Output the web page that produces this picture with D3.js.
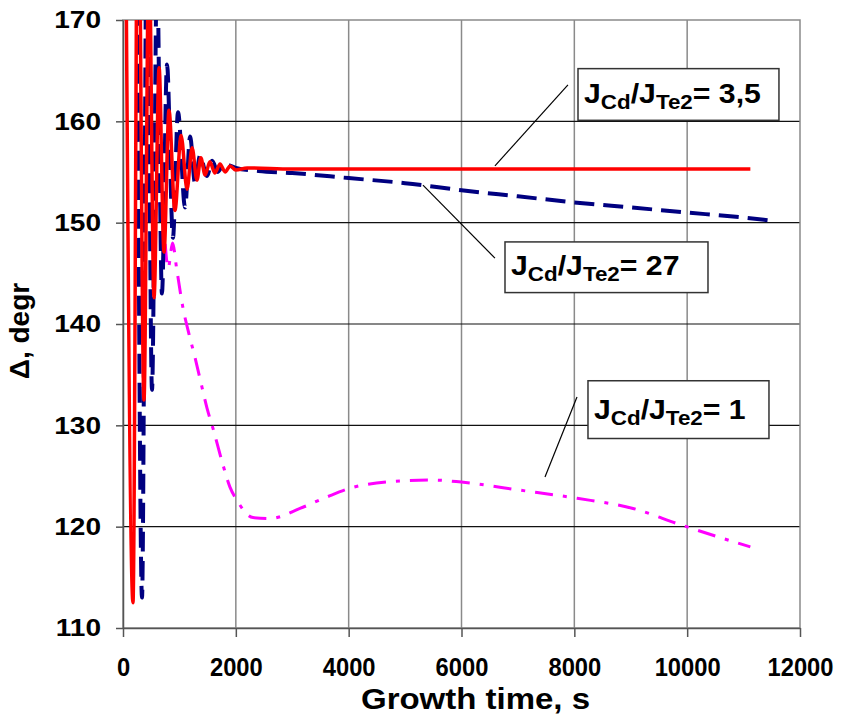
<!DOCTYPE html>
<html><head><meta charset="utf-8">
<script src="https://cdn.jsdelivr.net/npm/d3@7"></script>
<style>
html,body{margin:0;padding:0;background:#fff;}
text{font-family:"Liberation Sans",Arial,sans-serif;font-weight:bold;fill:#000;}
</style></head>
<body>
<svg id="chart" width="844" height="721"></svg>
<script>
// ---- data ----
const xTicks = [0, 2000, 4000, 6000, 8000, 10000, 12000];
const yTicks = [110, 120, 130, 140, 150, 160, 170];

// J_Cd/J_Te2 = 3,5 (red, solid)
const redTime  = [50, 177, 266, 372, 460, 550, 640, 727, 815, 920, 1030, 1135, 1225, 1310, 1380, 1455, 1540, 1630, 1720, 1810, 1900, 2000, 2200, 3000, 4000, 5000, 6000, 7000, 8000, 9000, 10000, 11120];
const redDelta = [178, 112.5, 190, 132.5, 178, 142.6, 165.3, 147.1, 161.1, 151.2, 158.6, 153.3, 157.4, 154.2, 156.4, 154.7, 156.0, 154.9, 155.8, 155.0, 155.6, 155.2, 155.4, 155.3, 155.3, 155.3, 155.3, 155.3, 155.3, 155.3, 155.3, 155.3];

// J_Cd/J_Te2 = 27 (navy, dashed)
const navyTime  = [250, 337, 425, 514, 603, 690, 780, 885, 975, 1100, 1190, 1275, 1365, 1490, 1580, 1680, 1790, 2000, 2400, 3000, 4000, 5000, 6000, 7000, 8000, 9000, 10000, 11000, 11500];
const navyDelta = [180, 113, 182, 133.5, 175, 143, 165.6, 148.5, 160.9, 151.5, 158.5, 153.9, 156.6, 154.6, 156.1, 155.0, 155.8, 155.4, 155.1, 154.9, 154.4, 153.9, 153.2, 152.6, 152.0, 151.5, 151.0, 150.5, 150.2];

// J_Cd/J_Te2 = 1 (magenta, dash-dot)
const magTime  = [650, 720, 800, 880, 950, 1063, 1170, 1276, 1390, 1489, 1595, 1772, 1896, 2020, 2304, 2605, 3137, 3600, 4025, 4900, 5500, 6000, 7040, 8050, 9040, 9875, 11120];
const magDelta = [152, 149.5, 145.5, 148.0, 145.5, 141.6, 139.0, 136.7, 134.0, 131.7, 129.7, 126.1, 123.9, 122.6, 120.9, 120.8, 121.8, 122.9, 123.8, 124.5, 124.6, 124.4, 123.6, 122.8, 121.8, 120.2, 118.0];

// annotation labels
const labelValues = ["3,5", "27", "1"];
// ---- end data ----

const svg = d3.select("#chart");
const L = 123, R = 800, T = 20, B = 628;
const SX = 1.17; // horizontal glyph stretch of original

const x = d3.scaleLinear().domain([0, 12000]).range([L, R]);
const y = d3.scaleLinear().domain([110, 170]).range([B, T]);

// grid
svg.append("g").selectAll("line").data(xTicks.slice(1, -1)).join("line")
  .attr("x1", d => x(d)).attr("x2", d => x(d)).attr("y1", T).attr("y2", B)
  .attr("stroke", "#8a8a8a").attr("stroke-width", 1.5);
svg.append("g").selectAll("line").data(yTicks.slice(1, -1)).join("line")
  .attr("x1", L).attr("x2", R).attr("y1", d => y(d)).attr("y2", d => y(d))
  .attr("stroke", "#111").attr("stroke-width", 1.2);
// plot border
svg.append("rect").attr("x", L).attr("y", T).attr("width", R - L).attr("height", B - T)
  .attr("fill", "none").attr("stroke", "#8a8a8a").attr("stroke-width", 1.5);

// clip
svg.append("clipPath").attr("id", "clip").append("rect")
  .attr("x", L).attr("y", T).attr("width", R - L).attr("height", B - T);

const line = d3.line().x(d => x(d[0])).y(d => y(d[1])).curve(d3.curveMonotoneX);
const plot = svg.append("g").attr("clip-path", "url(#clip)");

plot.append("path").datum(d3.zip(magTime, magDelta)).attr("d", line)
  .attr("fill", "none").attr("stroke", "#ff00ff").attr("stroke-width", 3)
  .attr("stroke-dasharray", "18,10,4,10");
plot.append("path").datum(d3.zip(navyTime, navyDelta)).attr("d", line)
  .attr("fill", "none").attr("stroke", "#000080").attr("stroke-width", 4)
  .attr("stroke-dasharray", "20,9");
plot.append("path").datum(d3.zip(redTime, redDelta)).attr("d", line)
  .attr("fill", "none").attr("stroke", "#ff0000").attr("stroke-width", 3.5);

// axes
const xAxis = svg.append("g").attr("transform", `translate(0,${B})`)
  .call(d3.axisBottom(x).tickValues(xTicks).tickSize(9).tickSizeOuter(0).tickFormat(d3.format("d")));
const yAxis = svg.append("g").attr("transform", `translate(${L},0)`)
  .call(d3.axisLeft(y).tickValues(yTicks).tickSize(7).tickSizeOuter(0).tickFormat(d3.format("d")));
[xAxis, yAxis].forEach(a => {
  a.select(".domain").attr("stroke", "#555").attr("stroke-width", 1.5);
  a.selectAll(".tick line").attr("stroke", "#555").attr("stroke-width", 1.5);
  a.selectAll("text").style("font-size", "24px").attr("font-weight", "bold")
    .attr("font-family", "'Liberation Sans', Arial, sans-serif").attr("fill", "#000");
});
xAxis.selectAll(".tick text").attr("y", 0).attr("dy", "0.71em").style("font-size", "25px")
  .attr("transform", `translate(0,30) scale(0.95,1)`);
yAxis.selectAll(".tick text").attr("x", 0)
  .attr("transform", `translate(-22,0) scale(${SX},1)`);

// axis titles
svg.append("text").attr("text-anchor", "middle").style("font-size", "30px")
  .attr("transform", `translate(${(L + R) / 2 + 14},709) scale(1.1,1)`)
  .text("Growth time, s");
svg.append("text").attr("text-anchor", "middle").style("font-size", "28px")
  .attr("transform", `translate(29,331) rotate(-90)`)
  .text("Δ, degr");

// annotations (positions in data units)
const boxes = [
  {t0: 8065, v0: 165.2, t1: 11627, v1: 160.1, lead: [[7887, 163.6], [6593, 155.6]]},
  {t0: 6771, v0: 148.1, t1: 10369, v1: 143.1, lead: [[5317, 153.7], [6593, 146.5]]},
  {t0: 8242, v0: 134.4, t1: 11450, v1: 128.7, lead: [[8047, 132.8], [7480, 124.9]]}
];
boxes.forEach((b, i) => {
  svg.append("line")
    .attr("x1", x(b.lead[0][0])).attr("y1", y(b.lead[0][1]))
    .attr("x2", x(b.lead[1][0])).attr("y2", y(b.lead[1][1]))
    .attr("stroke", "#000").attr("stroke-width", 1.2);
  svg.append("rect").attr("x", x(b.t0)).attr("y", y(b.v0))
    .attr("width", x(b.t1) - x(b.t0)).attr("height", y(b.v1) - y(b.v0))
    .attr("fill", "#fff").attr("stroke", "#333").attr("stroke-width", 1.5);
  const bh = y(b.v1) - y(b.v0);
  const t = svg.append("text").style("font-size", "27px")
    .attr("transform", `translate(${x(b.t0) + 6},${y(b.v0) + bh * 0.66}) scale(1.12,1)`);
  t.append("tspan").text("J");
  t.append("tspan").attr("dy", 6).style("font-size", "20px").text("Cd");
  t.append("tspan").attr("dy", -6).text("/J");
  t.append("tspan").attr("dy", 6).style("font-size", "20px").text("Te2");
  t.append("tspan").attr("dy", -6).text("= " + labelValues[i]);
});
</script>
</body></html>
